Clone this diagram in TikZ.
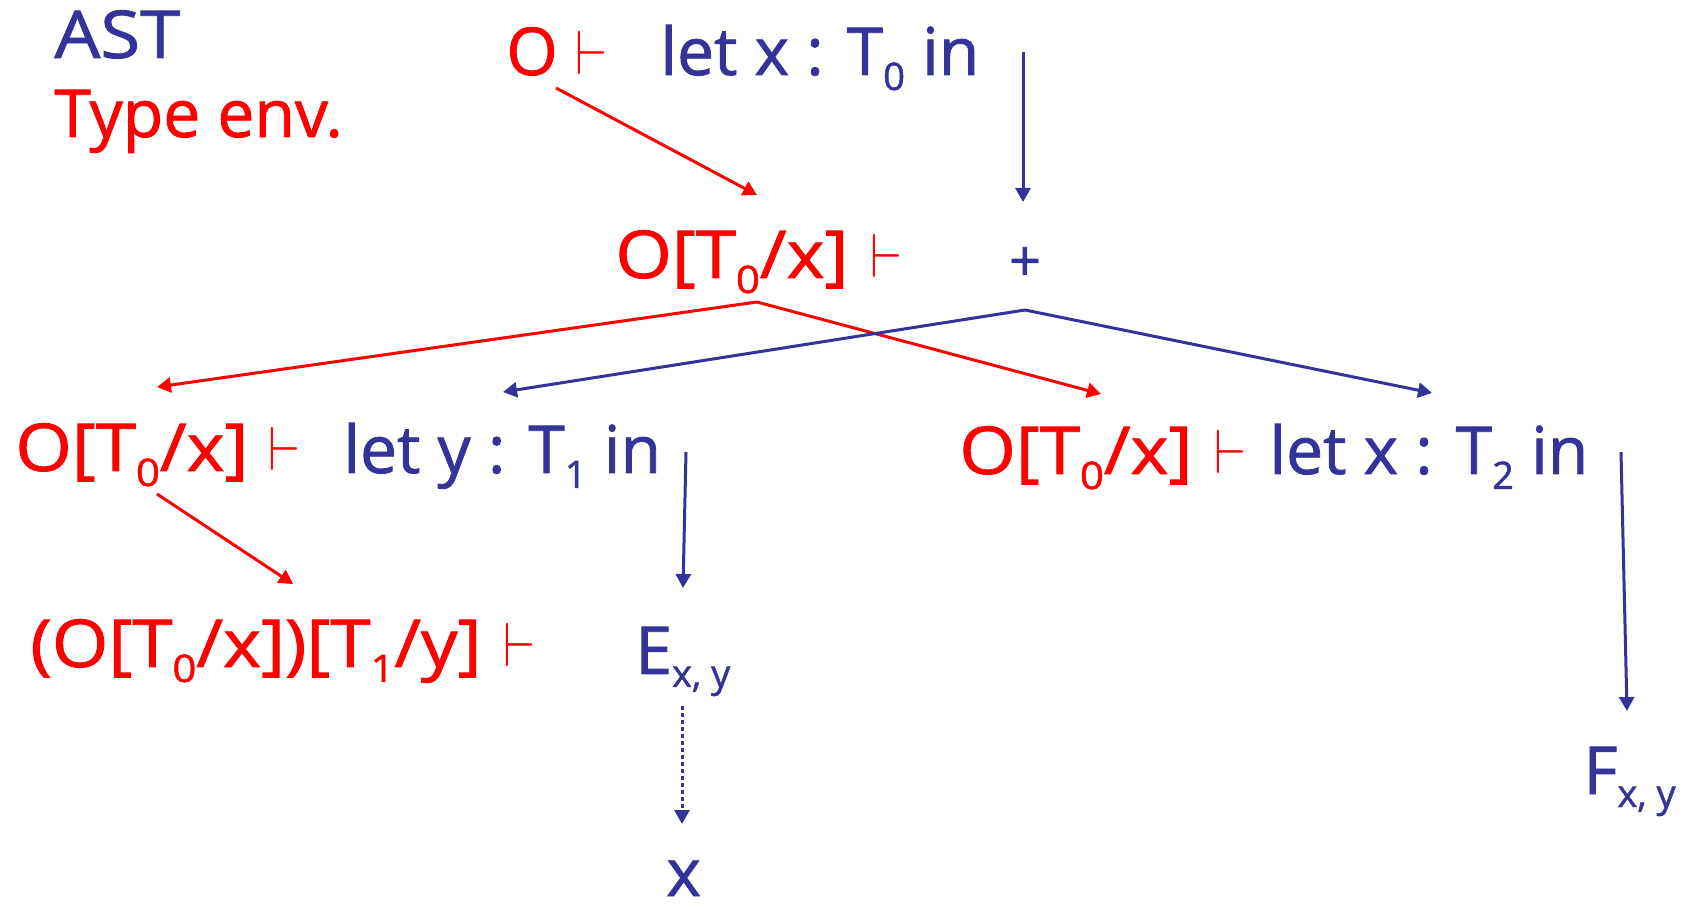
\documentclass[tikz,border=0pt]{standalone}
\usepackage{graphicx}
\usepackage{fontspec}
\setmainfont{Open Sans}[FakeBold=1.2]
\usetikzlibrary{arrows.meta}
\definecolor{astblue}{RGB}{51,51,153}
\definecolor{envred}{RGB}{255,0,0}
\newcommand\sbx[1]{\raisebox{-7.5pt}{\fontsize{19}{20}\selectfont #1}}
\newcommand\sbxs[1]{\raisebox{-6.5pt}{\fontsize{19}{20}\selectfont #1}}
\newcommand\envt[1]{\scalebox{1.1}[1]{#1}}
\newcommand\tstile{\scalebox{1.05}[1.25]{$\vdash$}}
\tikzset{
  txt/.style={anchor=base west, inner sep=0pt, font=\fontsize{33}{40}\selectfont},
  btxt/.style={txt, text=astblue},
  rtxt/.style={txt, text=envred},
  rarr/.style={draw=envred, line width=1.5pt, -{Triangle[length=7pt,width=7.5pt]}},
  barr/.style={draw=astblue, line width=1.5pt, -{Triangle[length=7pt,width=7.5pt]}},
  dotarr/.style={barr, dash pattern=on 2pt off 1.5pt},
}
\begin{document}
\begin{tikzpicture}[x=0.5pt,y=-0.5pt]
\useasboundingbox (0,0) rectangle (1687,908);
% legend
\node[btxt] (ast) at (54,58) {\envt{AST}};
\node[rtxt] (tenv) at (54,137) {Type env.};
% row 1
\node[rtxt] (env1) at (506,75) {O\hspace{9pt}\tstile};
\node[btxt] (let0) at (660,75) {let x : T\sbx{0} in};
% row 2
\node[rtxt] (env2) at (615,278) {\envt{O[T\sbx{0}/x]}\hspace{11pt}\tstile};
\node[text=astblue, inner sep=0pt, font=\fontsize{28}{34}\selectfont] (plus) at (1025,264) {+};
% row 3
\node[rtxt] (env3l) at (15,471) {\envt{O[T\sbx{0}/x]}\hspace{10pt}\tstile};
\node[btxt] (lety) at (343,473) {let y : T\sbx{1} in};
\node[rtxt] (env3r) at (959,474) {\envt{O[T\sbx{0}/x]}\hspace{11pt}\tstile};
\node[btxt] (let2) at (1269,474) {let x : T\sbx{2} in};
% row 4
\node[rtxt] (env4) at (30,667) {\envt{(O[T\sbx{0}/x])[T\sbx{1}/y]}\hspace{11pt}\tstile};
\node[btxt] (E) at (635,674) {E\sbxs{x, y}};
\node[btxt] (xv) at (666,896) {x};
\node[btxt] (F) at (1583,794) {F\sbxs{x, y}};
% connector ports
\coordinate (env1out) at (556,88);
\coordinate (env2in) at (757,195);
\coordinate (let0out) at (1023,52);
\coordinate (plusin) at (1023,202);
\coordinate (env2out) at (757,302);
\coordinate (env3lin) at (157,387);
\coordinate (env3rin) at (1101,394);
\coordinate (plusout) at (1025,310);
\coordinate (letyin) at (503,392);
\coordinate (let2in) at (1432,393);
\coordinate (letyout) at (686,452);
\coordinate (Ein) at (683,588);
\coordinate (env3lout) at (157,494);
\coordinate (env4in) at (293,584);
\coordinate (Eout) at (682,706);
\coordinate (xin) at (682,824);
\coordinate (let2out) at (1621,452);
\coordinate (Fin) at (1627,711);
% connectors
\draw[rarr] (env1out) -- (env2in);
\draw[barr] (let0out) -- (plusin);
\draw[rarr] (env2out) -- (env3lin);
\draw[rarr] (env2out) -- (env3rin);
\draw[barr] (plusout) -- (letyin);
\draw[barr] (plusout) -- (let2in);
\draw[barr] (letyout) -- (Ein);
\draw[rarr] (env3lout) -- (env4in);
\draw[dotarr] (Eout) -- (xin);
\draw[barr] (let2out) -- (Fin);
\end{tikzpicture}
\end{document}
